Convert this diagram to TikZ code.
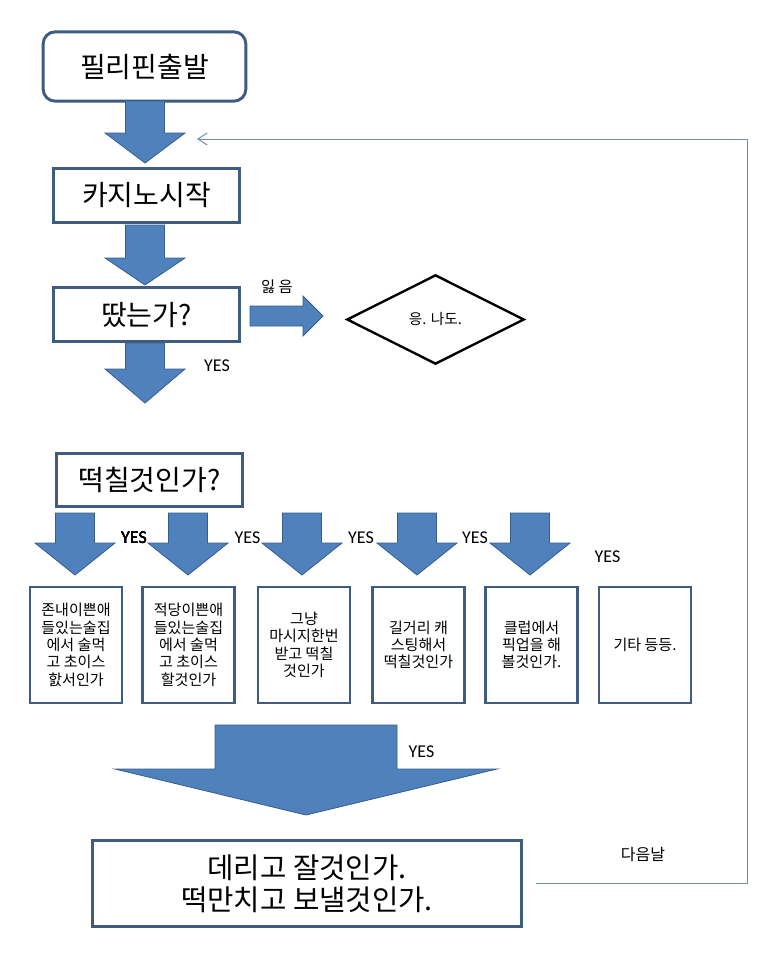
\documentclass[tikz,border=0pt]{standalone}
\usepackage{fontspec}
\newfontfamily\kr{Noto Sans CJK KR}
\newfontfamily\lat{Carlito}
\usetikzlibrary{shapes.geometric,arrows.meta}
\definecolor{arrowfill}{HTML}{4F81BD}
\definecolor{arrowline}{HTML}{385D8A}
\definecolor{boxline}{HTML}{3E5B80}
\definecolor{backline}{HTML}{6F8FB8}

\tikzset{
  box/.style={draw=boxline, line width=2.2pt, fill=white, inner sep=0pt},
  bigbox/.style={box, font=\kr\fontsize{21}{25}\selectfont},
  smallbox/.style={box, minimum width=69pt, minimum height=87pt, align=center,
    font=\kr\fontsize{11.3}{13}\selectfont},
  blk/.style={fill=arrowfill, draw=arrowline, line width=0.6pt, line join=miter},
  yes/.style={font=\lat\fontsize{13.5}{14}\selectfont},
  note/.style={font=\kr\fontsize{11}{13}\selectfont},
  back/.style={draw=backline, line width=0.75pt, -{Straight Barb[length=7pt,width=9pt]}},
}
% block arrow pointing down: centre x, top, half shaft, base, half head, tip
\newcommand{\downblk}[6]{%
  \draw[blk] (#1-#3,#2) -- (#1+#3,#2) -- (#1+#3,#4) -- (#1+#5,#4) -- (#1,#6)
    -- (#1-#5,#4) -- (#1-#3,#4) -- cycle;}

\begin{document}
\begin{tikzpicture}[x=0.75pt, y=-0.75pt]
  \useasboundingbox (0,0) rectangle (781,974);

  % main column
  \node[bigbox, rounded corners=9pt, minimum width=152pt, minimum height=52pt] (start) at (144.5,66.5) {필리핀출발};
  \node[bigbox, minimum width=139pt, minimum height=40pt] (casino) at (146.5,195.5) {카지노시작};
  \node[bigbox, minimum width=139pt, minimum height=40pt] (win) at (146.5,314.5) {땄는가?};
  \node[bigbox, minimum width=139pt, minimum height=40pt] (smear) at (149.5,480) {떡칠것인가?};

  \downblk{145}{101}{19.5}{133}{40}{163}
  \downblk{145}{225}{19.5}{258}{40}{285}
  \downblk{145}{343}{19.5}{369}{40}{403}
  \node[yes] (yes0) at (217,366) {YES};

  % losing branch
  \draw[blk] (250,306) -- (303,306) -- (303,296) -- (323,316) -- (303,336) -- (303,326) -- (250,326) -- cycle;
  \node[note, font=\kr\fontsize{11.5}{13}\selectfont] (lose) at (277,287) {잃 음};
  \node[draw, diamond, line width=1.8pt, minimum width=133pt, minimum height=67pt, inner sep=0pt, note] (same) at (435.5,319.5) {응. 나도.};

  % choices
  \foreach \cx in {75,188,302,417,530}
    \downblk{\cx}{513}{19.5}{543}{40}{575}
  \node[yes] (yes1) at (134,538) {YES};
  \node[yes] (yes2) at (247.5,538) {YES};
  \node[yes] (yes3) at (361,538) {YES};
  \node[yes] (yes4) at (475,538) {YES};
  \node[yes] (yes5) at (607.5,557) {YES};

  \foreach \cx/\txt [count=\i] in {
      76/{존내이쁜애\\들있는술집\\에서 술먹\\고 초이스\\핤서인가},
      188.5/{적당이쁜애\\들있는술집\\에서 술먹\\고 초이스\\할것인가},
      304/{그냥\\마시지한번\\받고 떡칠\\것인가},
      418.5/{길거리 캐\\스팅해서\\떡칠것인가},
      531.5/{클럽에서\\픽업을 해\\볼것인가.},
      645/{기타 등등.}}
    \node[smallbox] (c\i) at (\cx,645) {\txt};

  % ending
  \downblk{306}{725}{91}{769}{191}{815}
  \node[yes] (yes6) at (421.5,752) {YES};
  \node[bigbox, minimum width=322pt, minimum height=65pt, align=center,
    font=\kr\fontsize{21.5}{24}\selectfont] (final) at (307,883.5) {데리고 잘것인가.\\떡만치고 보낼것인가.};

  % next day
  \coordinate (ret) at (197,139);
  \draw[back] ([xshift=10pt]final.east) -- ++(211,0) |- (ret);
  \node[note, font=\kr\fontsize{12}{14}\selectfont] (next) at (643,855) {다음날};
\end{tikzpicture}
\end{document}
